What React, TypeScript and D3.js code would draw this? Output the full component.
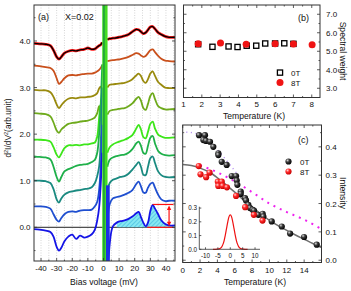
import React from "react";
import * as d3 from "d3";

const FONT = "Liberation Sans, Arial, Helvetica, sans-serif";

// ---------- Panel (a): spectra ----------
const biasLeft = [-44.5, -41, -37, -34, -32, -30, -28.5, -27, -25, -22.5, -20, -17.5, -15, -12.5, -10, -7.5, -5.5, -4, -2.8, -1.8, -0.8];
const biasRight = [2.5, 4, 6, 8.5, 11, 13.5, 16, 18.5, 21, 22.5, 24, 25.5, 27, 28.5, 30, 31.5, 33, 35, 37, 39.5, 42, 45.8];

const s1L = [3.95, 3.94, 3.93, 3.9, 3.8, 3.66, 3.61, 3.66, 3.74, 3.78, 3.8, 3.79, 3.81, 3.82, 3.85, 3.82, 3.83, 3.87, 3.9, 3.92, 3.97];
const s1R = [4.03, 4.05, 4.06, 4.07, 4.09, 4.11, 4.14, 4.2, 4.25, 4.24, 4.2, 4.16, 4.18, 4.24, 4.3, 4.31, 4.26, 4.18, 4.14, 4.1, 4.08, 4.08];
const s2L = [3.47, 3.46, 3.44, 3.42, 3.36, 3.2, 3.08, 3.12, 3.2, 3.26, 3.27, 3.26, 3.28, 3.29, 3.3, 3.3, 3.32, 3.35, 3.38, 3.42, 3.48];
const s2R = [3.57, 3.58, 3.59, 3.6, 3.61, 3.63, 3.66, 3.7, 3.74, 3.73, 3.69, 3.66, 3.68, 3.74, 3.8, 3.82, 3.76, 3.68, 3.62, 3.58, 3.57, 3.56];
const s3L = [2.95, 2.94, 2.94, 2.9, 2.8, 2.64, 2.56, 2.62, 2.7, 2.76, 2.78, 2.77, 2.79, 2.79, 2.8, 2.81, 2.84, 2.88, 2.98, 3.02, 2.8];
const s3R = [3.0, 3.06, 3.07, 3.08, 3.09, 3.1, 3.13, 3.18, 3.26, 3.3, 3.25, 3.14, 3.1, 3.18, 3.3, 3.35, 3.25, 3.12, 3.06, 3.0, 2.99, 2.99];
const s4L = [2.45, 2.44, 2.43, 2.38, 2.25, 2.08, 2.03, 2.1, 2.16, 2.22, 2.24, 2.25, 2.27, 2.28, 2.29, 2.32, 2.36, 2.45, 2.6, 2.5, 1.4];
const s4R = [2.42, 2.5, 2.52, 2.53, 2.55, 2.56, 2.6, 2.66, 2.76, 2.8, 2.72, 2.56, 2.52, 2.65, 2.82, 2.88, 2.75, 2.6, 2.56, 2.53, 2.53, 2.54];
const s5L = [1.88, 1.88, 1.87, 1.84, 1.72, 1.56, 1.5, 1.58, 1.7, 1.76, 1.76, 1.77, 1.76, 1.78, 1.78, 1.8, 1.82, 1.95, 2.35, 2.65, 1.5];
const s5R = [1.6, 1.72, 1.78, 1.82, 1.85, 1.88, 1.92, 1.98, 2.12, 2.2, 2.1, 1.94, 1.91, 2.05, 2.22, 2.27, 2.12, 1.99, 1.95, 1.92, 1.92, 1.93];
const s6L = [1.52, 1.51, 1.5, 1.46, 1.3, 1.08, 0.98, 1.08, 1.2, 1.25, 1.28, 1.32, 1.34, 1.35, 1.36, 1.4, 1.45, 1.6, 2.0, 2.6, 3.5];
const s6R = [1.3, 1.45, 1.5, 1.53, 1.55, 1.56, 1.6, 1.68, 1.8, 1.84, 1.75, 1.6, 1.58, 1.75, 1.92, 1.96, 1.8, 1.64, 1.58, 1.55, 1.54, 1.55];
const s7L = [1.0, 1.0, 0.99, 0.95, 0.82, 0.6, 0.53, 0.62, 0.7, 0.75, 0.77, 0.79, 0.8, 0.82, 0.83, 0.86, 0.95, 1.1, 1.3, 1.8, 3.0];
const s7R = [0.8, 0.95, 1.02, 1.05, 1.08, 1.1, 1.15, 1.24, 1.34, 1.4, 1.3, 1.13, 1.12, 1.3, 1.48, 1.52, 1.38, 1.2, 1.12, 1.08, 1.07, 1.08];
const s8L = [0.45, 0.45, 0.44, 0.4, 0.28, 0.16, 0.12, 0.2, 0.28, 0.33, 0.34, 0.33, 0.36, 0.37, 0.37, 0.38, 0.45, 0.55, 0.8, 1.3, 2.2];
const s8R = [0.1, 0.5, 0.62, 0.65, 0.67, 0.7, 0.74, 0.8, 0.93, 0.98, 0.88, 0.75, 0.74, 0.85, 0.93, 0.96, 0.85, 0.7, 0.6, 0.56, 0.57, 0.57];
const s9L = [-0.04, -0.05, -0.07, -0.1, -0.2, -0.42, -0.5, -0.44, -0.3, -0.2, -0.16, -0.25, -0.18, -0.22, -0.2, -0.15, -0.05, 0.15, 0.42, 0.9, 1.6];
const s9R = [-1.5, -0.35, 0.02, 0.1, 0.13, 0.15, 0.18, 0.23, 0.3, 0.33, 0.22, 0.1, 0.02, 0.1, 0.35, 0.48, 0.4, 0.28, 0.15, 0.07, 0.04, 0.04];

const spectraLeft = [s1L, s2L, s3L, s4L, s5L, s6L, s7L, s8L, s9L];
const spectraRight = [s1R, s2R, s3R, s4R, s5R, s6R, s7R, s8R, s9R];
const spectraColors = ["#000000", "#c9501c", "#998a0e", "#6eaa1c", "#3de61a", "#1fb04a", "#1a8a80", "#1f4fd0", "#1414e6"];

// zero-bias off-scale band (mV) and the blue part's top value
const bandLime = [-0.8, 2.6];
const bandDark = [-0.2, 0.8];
const bandBlue = [1.6, 4.0];
const bandBlueTop = 0.9;

// hatched spectral-weight area starts here (mV)
const hatchStart = 8.5;
// red annotation
const annPeakBias = 31.5;
const annPeak = 0.49;
const annBaseStart = 28;
const annEnd = 44.8;
const annArrowBias = 42;

const aXTicks = [-40, -30, -20, -10, 0, 10, 20, 30, 40];
const aXMinor = [-35, -25, -15, -5, 5, 15, 25, 35, 45];
const aYTicks = [0, 1, 2, 3, 4];
const aYMinor = [-0.5, 0.5, 1.5, 2.5, 3.5, 4.5];
const aGrid = [-40, -35, -30, -25, -20, -15, -10, -5, 0, 5, 10, 15, 20, 25, 30, 35, 40, 45];

// ---------- Panel (b): spectral weight ----------
const weightT0 = [1.8, 2.58, 3.46, 3.95, 4.45, 4.97, 5.46, 6.0, 6.5, 7.0];
const weight0 = [5.38, 5.24, 5.26, 5.23, 5.3, 5.3, 5.42, 5.42, 5.43, 5.4];
const weightT8 = [1.8, 3.02, 4.42, 6.0, 7.0, 8.02];
const weight8 = [5.4, 5.44, 5.38, 5.41, 5.39, 5.35];
const bXTicks = [1, 2, 3, 4, 5, 6, 7, 8];
const bXMinor = [1.5, 2.5, 3.5, 4.5, 5.5, 6.5, 7.5];
const bYTicks = [3, 4, 5, 6, 7];
const bYMinor = [3.5, 4.5, 5.5, 6.5];

// ---------- Panel (c): intensity ----------
const intT0 = [1.88, 2.57, 2.38, 2.69, 3.15, 3.53, 4.11, 4.11, 4.5, 5.07, 5.65, 6.15, 6.23, 6.3, 6.69, 6.69, 7.19, 7.3, 7.57, 7.76, 8.07, 8.22, 8.72, 9.22, 9.3, 10.26, 11.42, 12.38, 13.99, 15.45];
const int0 = [0.441, 0.441, 0.424, 0.421, 0.418, 0.4, 0.377, 0.371, 0.347, 0.336, 0.297, 0.297, 0.281, 0.266, 0.242, 0.234, 0.219, 0.211, 0.195, 0.184, 0.178, 0.175, 0.16, 0.164, 0.154, 0.137, 0.119, 0.094, 0.082, 0.055];
const intT8 = [1.85, 2.05, 2.7, 3.1, 4.05, 4.5, 4.1, 4.6, 5.1, 6.15, 7.2, 8.2, 9.2];
const int8 = [0.332, 0.303, 0.293, 0.309, 0.277, 0.277, 0.262, 0.262, 0.257, 0.227, 0.187, 0.16, 0.14];
const fitT = [0, 1, 2, 3, 4, 5, 6, 7, 8, 9, 10, 11, 12, 13, 14, 15, 16];
const fitGray = [0.338, 0.334, 0.325, 0.312, 0.291, 0.266, 0.24, 0.213, 0.188, 0.163, 0.141, 0.122, 0.105, 0.089, 0.074, 0.059, 0.045];
const magT = [2, 4, 6, 8, 10, 12, 14, 16];
const magV = [0.335, 0.31, 0.278, 0.24, 0.2, 0.17, 0.143, 0.11];
const lavT = [0.4, 1.5, 2.5, 3.5, 4.5, 5.5, 6.5];
const lavV = [0.452, 0.447, 0.432, 0.405, 0.372, 0.335, 0.295];
const cXTicks = [0, 2, 4, 6, 8, 10, 12, 14];
const cXMinor = [1, 3, 5, 7, 9, 11, 13, 15];
const cYTicks = [0, 0.1, 0.2, 0.3, 0.4];
const cYMinor = [0.05, 0.15, 0.25, 0.35, 0.45];

// inset
const insetX = [-7, -6, -4.5, -3.5, -3, -2.5, -2, -1.5, -1, -0.5, 0, 0.5, 1, 1.5, 2, 2.5, 3, 3.5, 4.5, 6, 7];
const insetY = [0, 0, 0.003, 0.016, 0.034, 0.062, 0.103, 0.152, 0.2, 0.238, 0.25, 0.238, 0.2, 0.152, 0.103, 0.062, 0.034, 0.016, 0.003, 0, 0];
const insetXTicks = [-10, -5, 0, 5, 10];
const insetYTicks = [0, 0.1, 0.2, 0.3];

type Sc = d3.ScaleLinear<number, number>;

function Frame({ l, r, t, b }: { l: number; r: number; t: number; b: number }) {
  return <rect x={l} y={t} width={r - l} height={b - t} fill="none" stroke="#333" strokeWidth={1} />;
}

function XTicks({ sc, vals, t, b, len, both = true }: { sc: Sc; vals: number[]; t: number; b: number; len: number; both?: boolean }) {
  return (
    <g stroke="#333" strokeWidth={0.8}>
      {vals.map((v, i) => (
        <g key={i}>
          <line x1={sc(v)} x2={sc(v)} y1={b} y2={b - len} />
          {both && <line x1={sc(v)} x2={sc(v)} y1={t} y2={t + len} />}
        </g>
      ))}
    </g>
  );
}

function YTicks({ sc, vals, l, r, len, both = true }: { sc: Sc; vals: number[]; l: number; r: number; len: number; both?: boolean }) {
  return (
    <g stroke="#333" strokeWidth={0.8}>
      {vals.map((v, i) => (
        <g key={i}>
          <line y1={sc(v)} y2={sc(v)} x1={l} x2={l + len} />
          {both && <line y1={sc(v)} y2={sc(v)} x1={r} x2={r - len} />}
        </g>
      ))}
    </g>
  );
}

export default function App() {
  const aL = 34, aR = 175, aT = 5, aB = 261;
  const ax = d3.scaleLinear().domain([-44.5, 45.8]).range([aL, aR]);
  const ay = d3.scaleLinear().domain([-0.724, 4.773]).range([aB, aT]);

  const bL = 183.5, bR = 320, bT = 5, bB = 97.5;
  const bx = d3.scaleLinear().domain([1, 8.45]).range([bL, bR]);
  const by = d3.scaleLinear().domain([2.5, 7.5]).range([bB, bT]);

  const cL = 182.7, cR = 321.5, cT = 125, cB = 262.5;
  const cx = d3.scaleLinear().domain([0, 16]).range([cL, cR]);
  const cy = d3.scaleLinear().domain([-0.008, 0.477]).range([cB, cT]);

  const iL = 199.3, iR = 260, iT = 206.7, iB = 249.3;
  const ix = d3.scaleLinear().domain([-12.5, 12]).range([iL, iR]);
  const iy = d3.scaleLinear().domain([0, 0.31]).range([iB, iT]);

  const specLine = d3
    .line<[number, number]>()
    .x((d) => ax(d[0]))
    .y((d) => ay(d[1]))
    .curve(d3.curveCatmullRom.alpha(0.5));

  const hatchPts: [number, number][] = biasRight
    .map((b, i) => [b, s9R[i]] as [number, number])
    .filter((d) => d[0] >= hatchStart);
  const hatchArea = d3
    .area<[number, number]>()
    .x((d) => ax(d[0]))
    .y0(ay(0))
    .y1((d) => ay(Math.max(0, d[1])))
    .curve(d3.curveCatmullRom.alpha(0.5));

  const cLine = d3
    .line<[number, number]>()
    .x((d) => cx(d[0]))
    .y((d) => cy(d[1]))
    .curve(d3.curveMonotoneX);
  const iLine = d3
    .line<[number, number]>()
    .x((d) => ix(d[0]))
    .y((d) => iy(d[1]))
    .curve(d3.curveMonotoneX);

  const arrowX = ax(annArrowBias);
  const arrTop = ay(annPeak) + 1;
  const arrBot = ay(0) - 1;

  return (
    <svg
      width={351}
      height={291}
      viewBox="0 0 351 291"
      style={{ position: "absolute", left: 0, top: 0, background: "#fff" }}
      fontFamily={FONT}
    >
      <defs>
        <clipPath id="clipA">
          <rect x={aL} y={aT} width={aR - aL} height={aB - aT} />
        </clipPath>
        <clipPath id="clipC">
          <rect x={cL} y={cT} width={cR - cL} height={cB - cT} />
        </clipPath>
        <pattern id="hatch" patternUnits="userSpaceOnUse" width={3} height={3} patternTransform="rotate(45)">
          <rect width={3} height={3} fill="#86e8f2" />
          <line x1={0} y1={0} x2={0} y2={3} stroke="#2fa8d8" strokeWidth={1} />
        </pattern>
        <radialGradient id="ballBlack" cx="35%" cy="32%" r="70%">
          <stop offset="0%" stopColor="#d8d8d8" />
          <stop offset="40%" stopColor="#3a3a3a" />
          <stop offset="100%" stopColor="#000" />
        </radialGradient>
        <radialGradient id="ballRed" cx="35%" cy="32%" r="70%">
          <stop offset="0%" stopColor="#ffd6d6" />
          <stop offset="40%" stopColor="#ff2a2a" />
          <stop offset="100%" stopColor="#c40000" />
        </radialGradient>
      </defs>

      {/* ================= Panel (a) ================= */}
      <g clipPath="url(#clipA)">
        {aGrid.map((v, i) => (
          <line key={i} x1={ax(v)} x2={ax(v)} y1={aT} y2={aB} stroke="#b8b8b8" strokeWidth={0.6} strokeDasharray="1,1.5" />
        ))}
        <line x1={aL} x2={aR} y1={ay(0)} y2={ay(0)} stroke="#222" strokeWidth={1} />
        <path d={hatchArea(hatchPts) || ""} fill="url(#hatch)" stroke="none" />
        {/* fit under the top spectrum */}
        <path d={specLine(biasLeft.map((b, i) => [b, s1L[i]] as [number, number])) || ""} fill="none" stroke="#ff1a1a" strokeWidth={2.8} />
        <path d={specLine(biasRight.map((b, i) => [b, s1R[i]] as [number, number])) || ""} fill="none" stroke="#ff1a1a" strokeWidth={2.8} />
        {spectraLeft.map((vals, k) => (
          <g key={k}>
            <path d={specLine(biasLeft.map((b, i) => [b, vals[i]] as [number, number])) || ""} fill="none" stroke={spectraColors[k]} strokeWidth={k === 0 ? 1.3 : 1.8} strokeLinejoin="round" />
            <path d={specLine(biasRight.map((b, i) => [b, spectraRight[k][i]] as [number, number])) || ""} fill="none" stroke={spectraColors[k]} strokeWidth={k === 0 ? 1.3 : 1.8} strokeLinejoin="round" />
          </g>
        ))}
        {/* off-scale zero-bias band */}
        <rect x={ax(bandLime[0])} width={ax(bandLime[1]) - ax(bandLime[0])} y={aT} height={aB - aT} fill="#44dd22" />
        <rect x={ax(bandDark[0])} width={ax(bandDark[1]) - ax(bandDark[0])} y={aT} height={aB - aT} fill="#1f9c40" />
        <rect x={ax(bandBlue[0])} width={ax(bandBlue[1]) - ax(bandBlue[0])} y={ay(bandBlueTop)} height={aB - ay(bandBlueTop)} fill="#1a30e6" />
        {/* red annotation */}
        <g stroke="#ff1010" strokeWidth={1.2} fill="none">
          <line x1={ax(annPeakBias)} x2={ax(annEnd)} y1={ay(annPeak)} y2={ay(annPeak)} />
          <line x1={ax(annBaseStart)} x2={ax(annEnd)} y1={ay(0)} y2={ay(0)} />
          <line x1={arrowX} x2={arrowX} y1={arrTop + 3} y2={arrBot - 3} />
        </g>
        <path d={`M${arrowX},${arrTop} l-2.2,4.5 l4.4,0 Z M${arrowX},${arrBot} l-2.2,-4.5 l4.4,0 Z`} fill="#ff1010" />
      </g>
      <Frame l={aL} r={aR} t={aT} b={aB} />
      <XTicks sc={ax} vals={aXTicks} t={aT} b={aB} len={3} both={false} />
      <XTicks sc={ax} vals={aXMinor.filter((v) => v < 45.8)} t={aT} b={aB} len={1.5} both={false} />
      <YTicks sc={ay} vals={aYTicks} l={aL} r={aR} len={3} />
      <YTicks sc={ay} vals={aYMinor} l={aL} r={aR} len={1.5} />
      <g fontSize={8} fill="#111" textAnchor="middle">
        {aXTicks.map((v) => (
          <text key={v} x={ax(v)} y={271}>{v}</text>
        ))}
      </g>
      <g fontSize={8} fill="#111" textAnchor="end">
        {aYTicks.map((v) => (
          <text key={v} x={30.5} y={ay(v) + 3}>{v.toFixed(1)}</text>
        ))}
      </g>
      <text x={104} y={285} fontSize={8.6} textAnchor="middle" fill="#111">Bias voltage (mV)</text>
      <text transform="translate(10.5,128) rotate(-90)" fontSize={8.4} textAnchor="middle" fill="#111">
        d<tspan fontSize={5.5} dy={-3}>2</tspan>
        <tspan dy={3}>I/dV</tspan>
        <tspan fontSize={5.5} dy={-3}>2</tspan>
        <tspan dy={3}>(arb.unit)</tspan>
      </text>
      <text x={38} y={19.5} fontSize={9} fill="#111">(a)</text>
      <text x={65} y={19.5} fontSize={9} fill="#111">X=0.02</text>

      {/* ================= Panel (b) ================= */}
      <Frame l={bL} r={bR} t={bT} b={bB} />
      <XTicks sc={bx} vals={bXTicks} t={bT} b={bB} len={3} />
      <XTicks sc={bx} vals={bXMinor} t={bT} b={bB} len={1.5} />
      <YTicks sc={by} vals={bYTicks} l={bL} r={bR} len={3} />
      <YTicks sc={by} vals={bYMinor} l={bL} r={bR} len={1.5} />
      {weightT0.map((t, i) => (
        <rect key={i} x={bx(t) - 2.6} y={by(weight0[i]) - 2.6} width={5.2} height={5.2} fill="#fff" stroke="#000" strokeWidth={1.3} />
      ))}
      {weightT8.map((t, i) => (
        <circle key={i} cx={bx(t)} cy={by(weight8[i])} r={3.5} fill="#f01414" />
      ))}
      <rect x={277.4} y={70} width={5.2} height={5.2} fill="#fff" stroke="#000" strokeWidth={1.3} />
      <circle cx={280} cy={82.6} r={3.5} fill="#f01414" />
      <text x={291} y={75.8} fontSize={8} fill="#111">0T</text>
      <text x={291} y={85.8} fontSize={8} fill="#111">8T</text>
      <text x={298} y={20.5} fontSize={9} fill="#111">(b)</text>
      <g fontSize={8} fill="#111" textAnchor="middle">
        {bXTicks.map((v) => (
          <text key={v} x={bx(v)} y={106.5}>{v}</text>
        ))}
      </g>
      <g fontSize={8} fill="#111" textAnchor="start">
        {bYTicks.map((v) => (
          <text key={v} x={326} y={by(v) + 3}>{v.toFixed(1)}</text>
        ))}
      </g>
      <text x={254} y={118.5} fontSize={8.6} textAnchor="middle" fill="#111">Temperature (K)</text>
      <text transform="translate(340,51) rotate(90)" fontSize={8.6} textAnchor="middle" fill="#111">Spectral weight</text>

      {/* ================= Panel (c) ================= */}
      <g clipPath="url(#clipC)">
        <path d={cLine(lavT.map((t, i) => [t, lavV[i]] as [number, number])) || ""} fill="none" stroke="#b896f0" strokeWidth={1.4} strokeDasharray="1.2,3.5" />
        <path d={cLine(fitT.map((t, i) => [t, fitGray[i]] as [number, number])) || ""} fill="none" stroke="#6e6e6e" strokeWidth={1.5} />
        <path d={cLine(magT.map((t, i) => [t, magV[i]] as [number, number])) || ""} fill="none" stroke="#ee22ee" strokeWidth={2} strokeDasharray="2,5" />
        {intT0.map((t, i) => (
          <circle key={i} cx={cx(t)} cy={cy(int0[i])} r={3.1} fill="url(#ballBlack)" />
        ))}
        {intT8.map((t, i) => (
          <circle key={i} cx={cx(t)} cy={cy(int8[i])} r={3.1} fill="url(#ballRed)" />
        ))}
      </g>
      <Frame l={cL} r={cR} t={cT} b={cB} />
      <XTicks sc={cx} vals={cXTicks.concat([16])} t={cT} b={cB} len={3} />
      <XTicks sc={cx} vals={cXMinor} t={cT} b={cB} len={1.5} />
      <YTicks sc={cy} vals={cYTicks} l={cL} r={cR} len={3} />
      <YTicks sc={cy} vals={cYMinor} l={cL} r={cR} len={1.5} />
      <circle cx={288.5} cy={161.5} r={3.1} fill="url(#ballBlack)" />
      <circle cx={288.5} cy={171.5} r={3.1} fill="url(#ballRed)" />
      <text x={300} y={164.8} fontSize={8} fill="#111">0T</text>
      <text x={300} y={174.8} fontSize={8} fill="#111">8T</text>
      <text x={298} y={142.5} fontSize={9} fill="#111">(c)</text>
      <g fontSize={8} fill="#111" textAnchor="middle">
        {cXTicks.map((v) => (
          <text key={v} x={cx(v)} y={272.5}>{v}</text>
        ))}
      </g>
      <g fontSize={8} fill="#111" textAnchor="start">
        {cYTicks.map((v) => (
          <text key={v} x={325.5} y={cy(v) + 3}>{v.toFixed(1)}</text>
        ))}
      </g>
      <text x={255} y={285} fontSize={8.6} textAnchor="middle" fill="#111">Temperature (K)</text>
      <text transform="translate(340,193) rotate(90)" fontSize={8.6} textAnchor="middle" fill="#111">Intensity</text>

      {/* inset */}
      <path d={iLine(insetX.map((x, i) => [x, insetY[i]] as [number, number])) || ""} fill="none" stroke="#ee1111" strokeWidth={1.2} />
      <g stroke="#333" strokeWidth={0.8}>
        <line x1={iL} x2={iL} y1={iT} y2={iB} />
        <line x1={iL} x2={iR} y1={iB} y2={iB} />
        {insetXTicks.map((v) => (
          <line key={v} x1={ix(v)} x2={ix(v)} y1={iB} y2={iB - 2} />
        ))}
        {insetYTicks.map((v) => (
          <line key={v} x1={iL} x2={iL + 2} y1={iy(v)} y2={iy(v)} />
        ))}
      </g>
      <g fontSize={6.3} fill="#111" textAnchor="middle">
        {insetXTicks.map((v) => (
          <text key={v} x={ix(v)} y={257.5}>{v}</text>
        ))}
      </g>
      <g fontSize={6.3} fill="#111" textAnchor="end">
        {insetYTicks.map((v) => (
          <text key={v} x={197} y={iy(v) + 2.2}>{v.toFixed(1)}</text>
        ))}
      </g>
    </svg>
  );
}
